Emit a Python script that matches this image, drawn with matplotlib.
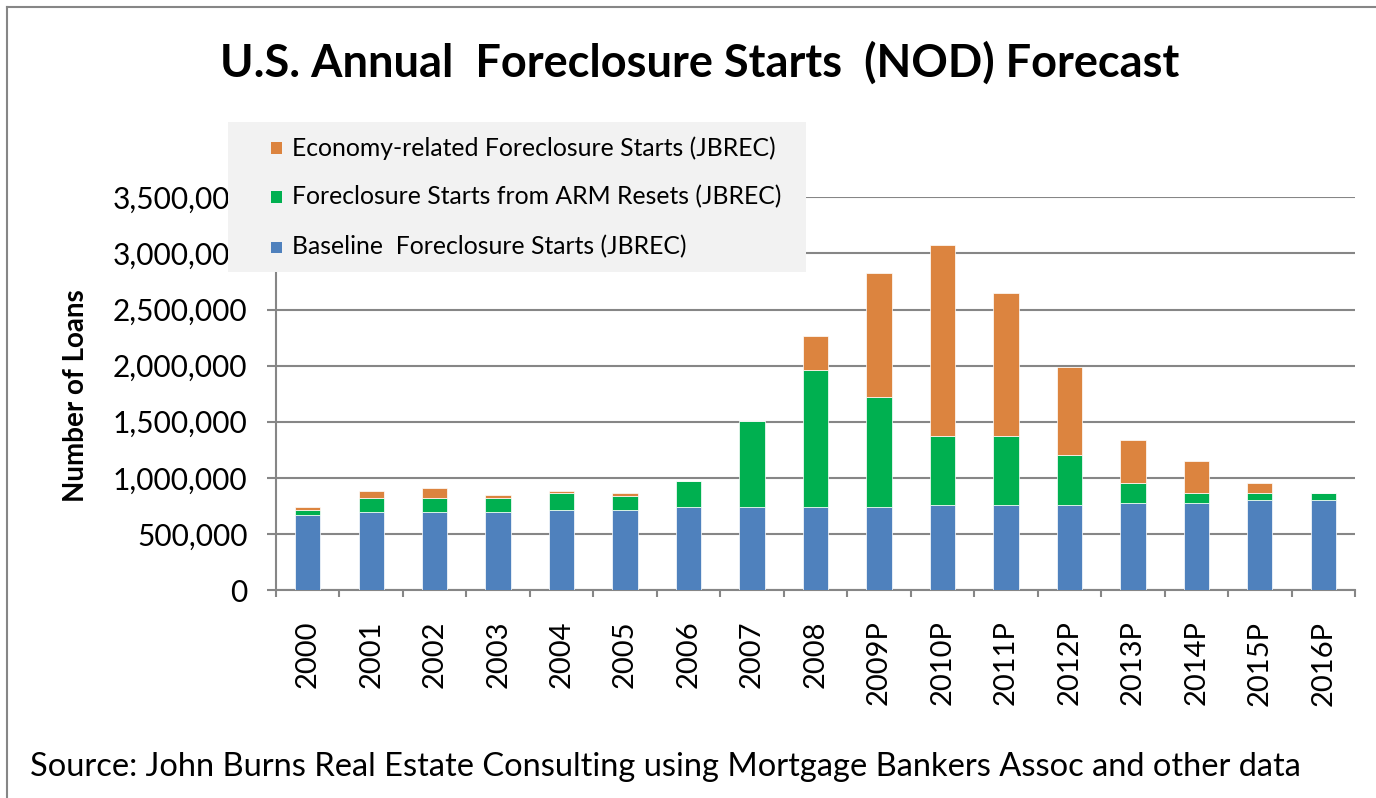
import matplotlib
matplotlib.use("Agg")
import matplotlib.pyplot as plt
from matplotlib.patches import Rectangle
from matplotlib.lines import Line2D
from matplotlib.ticker import FuncFormatter, MultipleLocator
import numpy as np

plt.rcParams['font.family'] = ['Lato', 'DejaVu Sans']

years = ['2000', '2001', '2002', '2003', '2004', '2005', '2006', '2007', '2008',
         '2009P', '2010P', '2011P', '2012P', '2013P', '2014P', '2015P', '2016P']
baseline = [668000, 692000, 692000, 692000, 713000, 713000, 737000, 737000, 737000,
            737000, 755000, 755000, 755000, 778000, 778000, 799000, 799000]
arm_resets = [45000, 131000, 131000, 131000, 149000, 128000, 234000, 772000, 1224000,
              986000, 620000, 620000, 451000, 173000, 84000, 63000, 65000]
economy = [24000, 62000, 86000, 21000, 23000, 24000, 0, 0, 303000,
           1099000, 1703000, 1275000, 779000, 386000, 285000, 89000, 0]

series_names = ['Baseline  Foreclosure Starts (JBREC)',
                'Foreclosure Starts from ARM Resets (JBREC)',
                'Economy-related Foreclosure Starts (JBREC)']
colors = ['#4F81BD', '#00B050', '#DC843F']

W, H = 1376, 798
GREY = '#868686'


def fx(x):
    return x / W


def fy(y):
    return 1 - y / H


fig = plt.figure(figsize=(W / 100, H / 100), dpi=100)
ax = fig.add_axes([fx(276), fy(590), (1355 - 276) / W, (590 - 197.3) / H])

x = np.arange(len(years))
bottom = np.zeros(len(years))
for vals, col in zip([baseline, arm_resets, economy], colors):
    ax.bar(x, vals, width=0.4, bottom=bottom, color=col, edgecolor='white',
           linewidth=0.5, zorder=3)
    bottom += np.array(vals)

ax.set_xlim(-0.5, len(years) - 0.5)
ax.set_ylim(0, 3500000)
ax.yaxis.set_major_locator(MultipleLocator(500000))
ax.yaxis.set_major_formatter(FuncFormatter(lambda v, p: f'{int(v):,}'))
ax.grid(axis='y', color=GREY, linewidth=1.5, zorder=0)
ax.set_axisbelow(True)

ax.set_xticks(x)
ax.set_xticklabels(years, rotation=90, fontsize=21)
ax.set_xticks(np.arange(len(years) + 1) - 0.5, minor=True)
ax.tick_params(axis='x', which='major', length=0, pad=22)
ax.tick_params(axis='x', which='minor', length=5, width=1.5, color=GREY)
ax.tick_params(axis='y', length=6.5, width=1.5, color=GREY, pad=14, labelsize=21.5)

for s in ['top', 'right']:
    ax.spines[s].set_visible(False)
for s in ['left', 'bottom']:
    ax.spines[s].set_color(GREY)
    ax.spines[s].set_linewidth(1.5)

fig.text(fx(76), fy(396), 'Number of Loans', rotation=90, ha='center', va='center',
         fontsize=20, fontweight='bold')

fig.text(fx(699.5), fy(63), 'U.S. Annual  Foreclosure Starts  (NOD) Forecast',
         ha='center', va='center', fontsize=32.5, fontweight='bold')

fig.text(fx(30), fy(767), 'Source: John Burns Real Estate Consulting using Mortgage Bankers Assoc and other data',
         ha='left', va='center', fontsize=23.5)

# legend box drawn over the top of the y tick labels
fig.add_artist(Rectangle((fx(228), fy(272)), (806 - 228) / W, (272 - 122) / H,
                         transform=fig.transFigure, facecolor='#F2F2F2',
                         edgecolor='none', zorder=5))
rows_y = [247, 197, 148]
for name, col, ry in zip(series_names, colors, rows_y):
    fig.add_artist(Rectangle((fx(271), fy(ry + 5.5)), 11 / W, 11 / H,
                             transform=fig.transFigure, facecolor=col,
                             edgecolor='none', zorder=6))
    fig.text(fx(292), fy(ry), name, ha='left', va='center', fontsize=17.8, zorder=6)

# chart area border (left and top)
fig.add_artist(Line2D([fx(7), fx(7)], [0, fy(7)], color=GREY, linewidth=1.5,
                      transform=fig.transFigure))
fig.add_artist(Line2D([fx(7), 1], [fy(7), fy(7)], color=GREY, linewidth=1.5,
                      transform=fig.transFigure))

fig.savefig('out.png', dpi=100)
